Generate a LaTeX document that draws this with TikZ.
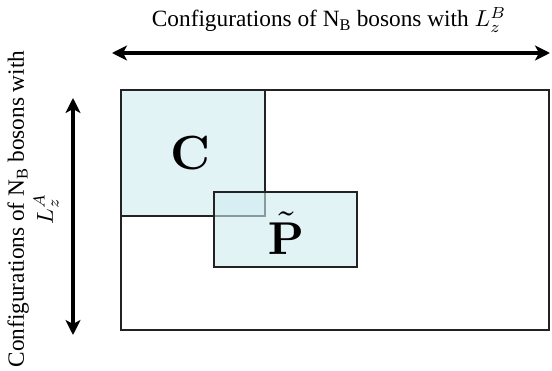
\documentclass[tikz,border=0pt]{standalone}
\usepackage[no-math]{fontspec}
\setmainfont{Liberation Serif}
\usetikzlibrary{arrows.meta}
\definecolor{boxfill}{HTML}{CFEBF0}
\definecolor{edge}{HTML}{222222}
\newcommand{\lzmath}[1]{\scalebox{2.3}{\fontsize{10}{12}\selectfont$L_z^{#1}$}}
\begin{document}
\begin{tikzpicture}[x=1pt,y=-1pt,
  frame/.style={draw=edge,line width=2.2pt},
  region/.style={draw=edge,line width=2.2pt,fill=boxfill,fill opacity=0.6},
  bigarrow/.style={line width=4pt,{Stealth[length=15pt,width=15pt,inset=4pt]}-{Stealth[length=15pt,width=15pt,inset=4pt]}},
  lab/.style={font=\fontsize{23.3}{29}\selectfont},
  big/.style={font=\fontsize{10}{12}\selectfont}]
\useasboundingbox (0,0) rectangle (552,371);
\draw[frame] (121,90) rectangle (549,330);
\draw[region] (121,90) rectangle (265,216);
\draw[region] (214,192) rectangle (357,267);
\node[big] (c) at (190,153) {\scalebox{4.8}{$\mathbf{C}$}};
\node[big] (p) at (286,233) {\scalebox{4.6}{$\tilde{\mathbf{P}}$}};
\coordinate (hl) at (112,53);
\coordinate (hr) at (550,53);
\draw[bigarrow] (hl) -- (hr);
\coordinate (vt) at (73,98);
\coordinate (vb) at (73,335);
\draw[bigarrow] (vt) -- (vb);
\node[lab] (tt) at (329,20) {Configurations of N\textsubscript{B} bosons with \lzmath{B}};
\node[lab,rotate=90,align=center] (lt) at (33,209) {Configurations of N\textsubscript{B} bosons with\\\lzmath{A}};
\end{tikzpicture}
\end{document}
